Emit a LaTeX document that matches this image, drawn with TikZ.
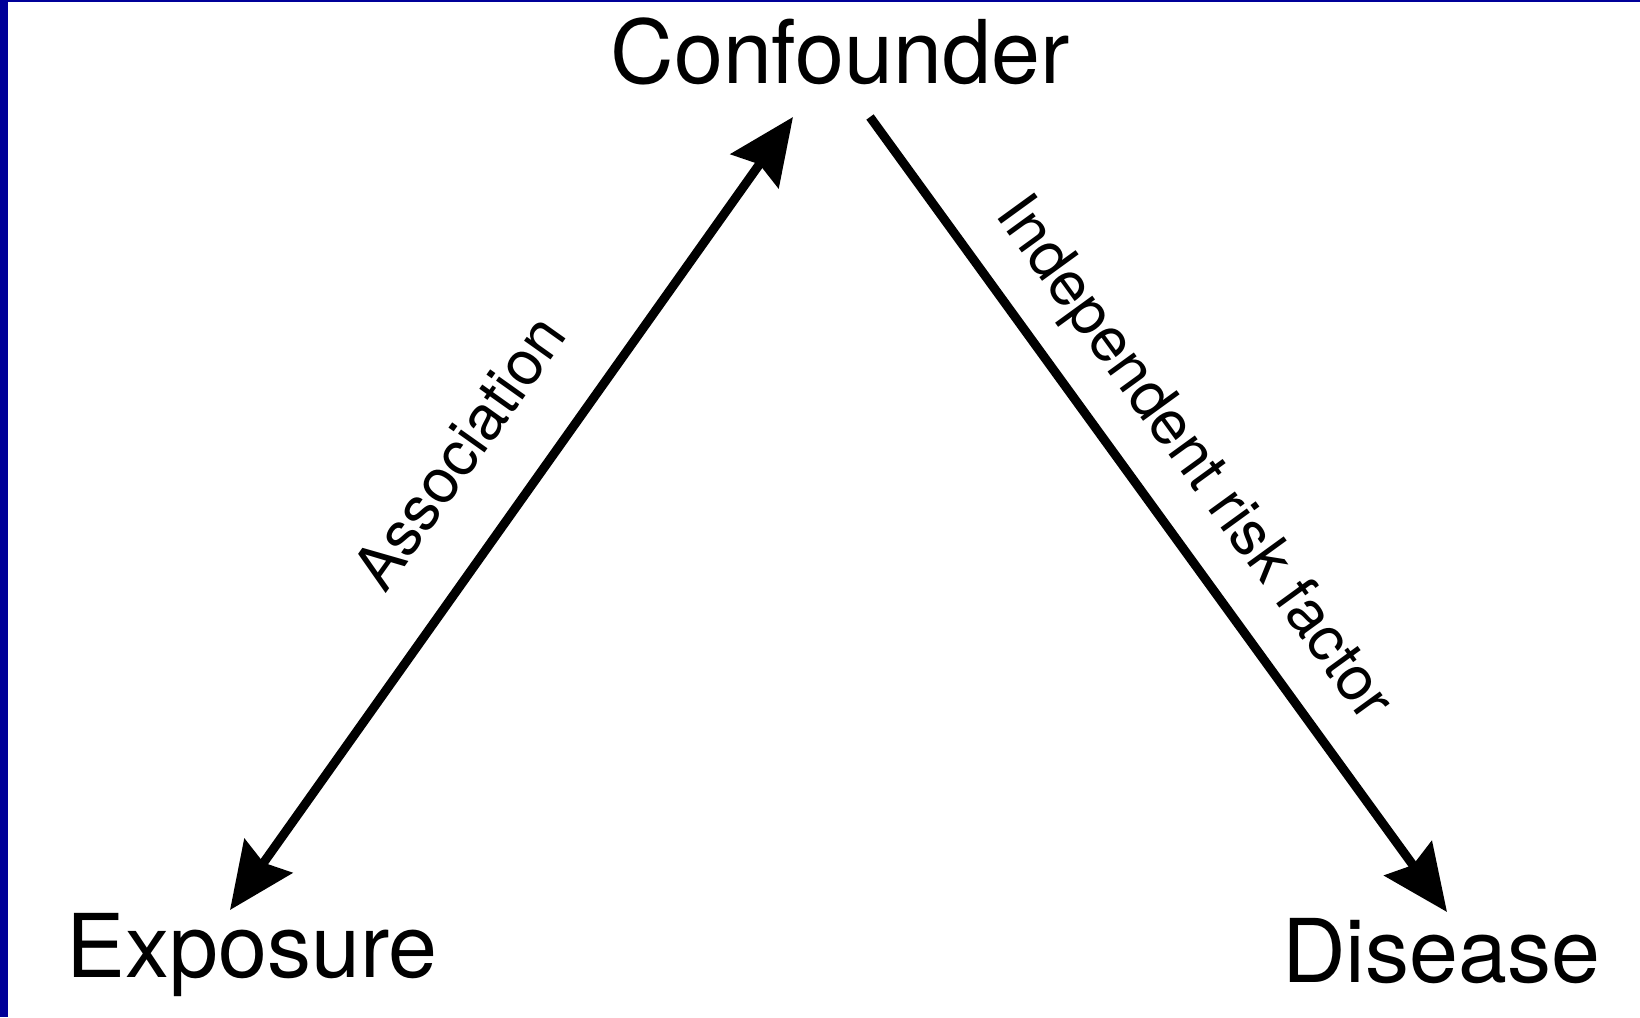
\documentclass[tikz,border=0pt]{standalone}
\usepackage{fontspec}
\setmainfont{TeX Gyre Heros}
\usepackage{xcolor}
\usetikzlibrary{
    arrows.meta,
    calc,
    positioning
}
\definecolor{slideblue}{RGB}{0,0,153}

\begin{document}
\begin{tikzpicture}[x=1pt, y=-1pt,
    term/.style={inner sep=0pt, anchor=base, font=\fontsize{88}{100}\selectfont},
    lbl/.style={inner sep=0pt, sloped, font=\fontsize{62}{70}\selectfont},
    conn/.style={line width=9pt},
    >={Stealth[length=66pt, width=58pt, inset=8pt]}]
                                \useasboundingbox (0, 0) rectangle (1640, 1017);
                                \fill[slideblue] (0, 0) rectangle (8, 1017);
                                \fill[slideblue] (0, 0) rectangle (1640, 2);

                                \node[term] (conf) at (840, 83) {Confounder};
                                \node[term] (expo) at (252, 977) {Exposure};
                                \node[term] (dis) at (1441, 982) {Disease};

                                \coordinate (expotip) at ($(expo.base) + (-22, -67)$);
                                \coordinate (conftip) at ($(conf.base) + (-47, 34)$);
                                \coordinate (confend) at ($(conf.base) + (30, 34)$);
                                \coordinate (distip) at ($(dis.base) + (6, -70)$);

                                \draw[conn, <->] (expotip) -- node[lbl, pos=0.52, above=51pt]{Association} (conftip);
                                \draw[conn, ->] (confend) -- node[lbl, pos=0.475, above=25pt]{Independent risk factor} (distip);
                            \end{tikzpicture}
\end{document}
